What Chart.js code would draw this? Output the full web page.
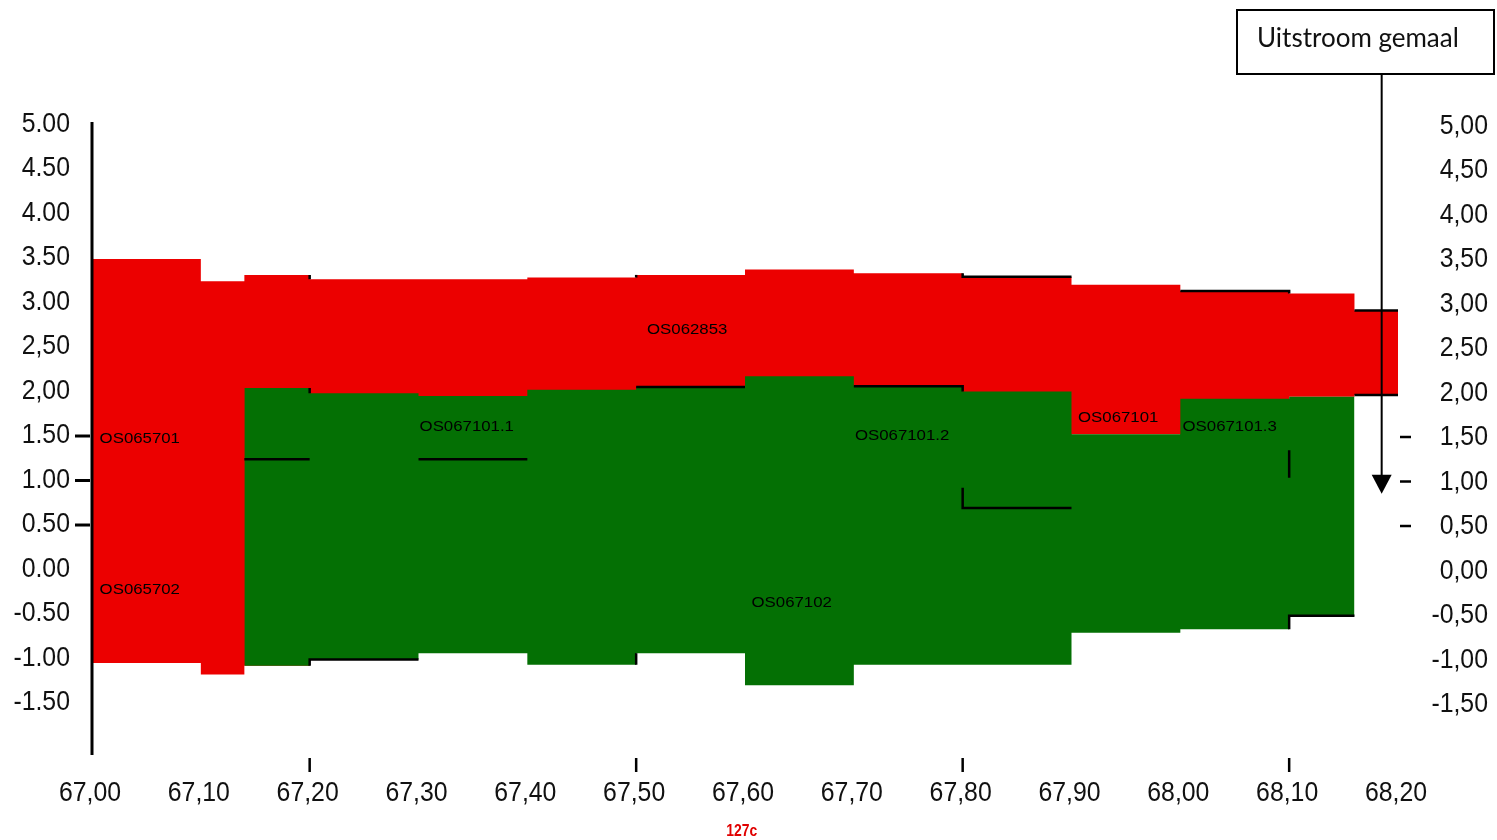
<!DOCTYPE html>
<html><head><meta charset="utf-8">
<script src="https://cdn.jsdelivr.net/npm/chart.js@4.4.1/dist/chart.umd.min.js"></script>
<style>html,body{margin:0;padding:0;background:#fff;overflow:hidden}#wrap{width:1497px;height:840px}</style>
</head><body><div id="wrap"><canvas id="c" width="1497" height="840"></canvas></div>
<script>
// ---- data ----
const boundaries = [67.00, 67.10, 67.14, 67.20, 67.30, 67.40, 67.50, 67.60, 67.70, 67.80, 67.90, 68.00, 68.10, 68.16, 68.20];
const redTop     = [3.49, 3.24, 3.31, 3.26, 3.26, 3.28, 3.31, 3.37, 3.33, 3.29, 3.20, 3.13, 3.10, 2.91];
// red band bottom (hidden behind green where green is present)
const redBottom  = [-1.05, -1.18, -1.08, 1.0, 1.0, 1.0, 1.0, 1.0, 1.0, 1.0, 1.52, 1.0, 1.94, 1.96];
const greenBoundaries = [67.14, 67.20, 67.30, 67.40, 67.50, 67.60, 67.70, 67.80, 67.90, 68.00, 68.10, 68.16];
const greenTop    = [2.04, 1.98, 1.95, 2.02, 2.05, 2.17, 2.06, 2.00, 1.52, 1.92, 1.94];
const greenBottom = [-1.08, -1.01, -0.94, -1.07, -0.94, -1.30, -1.07, -1.07, -0.71, -0.67, -0.52];
const profileLines = [
  [[67.14, 1.24], [67.20, 1.24]],
  [[67.30, 1.24], [67.40, 1.24]],
  [[67.20, 3.31], [67.20, 3.26]],
  [[67.20, 2.04], [67.20, 1.98]],
  [[67.50, 3.28], [67.50, 3.31]],
  [[67.80, 3.33], [67.80, 3.29], [67.90, 3.29]],
  [[68.00, 3.13], [68.10, 3.13], [68.10, 3.10]],
  [[68.16, 2.91], [68.20, 2.91]],
  [[68.16, 1.96], [68.20, 1.96]],
  [[67.50, 2.05], [67.60, 2.05]],
  [[67.70, 2.06], [67.80, 2.06], [67.80, 2.00]],
  [[67.80, 0.92], [67.80, 0.69], [67.90, 0.69]],
  [[68.10, 1.34], [68.10, 1.03]],
  [[67.20, -1.08], [67.20, -1.01], [67.30, -1.01]],
  [[67.50, -1.07], [67.50, -0.94]],
  [[68.10, -0.67], [68.10, -0.52], [68.16, -0.52]]
];
const sectionNames = ['OS065701', 'OS065702', 'OS062853', 'OS067101.1', 'OS067101.2', 'OS067101', 'OS067101.3', 'OS067102'];
const sectionX     = [67.007, 67.007, 67.510, 67.301, 67.701, 67.906, 68.002, 67.606];
const sectionY     = [1.47, -0.23, 2.69, 1.60, 1.50, 1.70, 1.60, -0.38];
const yTicks = [5, 4.5, 4, 3.5, 3, 2.5, 2, 1.5, 1, 0.5, 0, -0.5, -1, -1.5];
const yLabelsLeft  = ['5.00','4.50','4.00','3.50','3.00','2,50','2,00','1.50','1.00','0.50','0.00','-0.50','-1.00','-1.50'];
const yLabelsRight = ['5,00','4,50','4,00','3,50','3,00','2,50','2,00','1,50','1,00','0,50','0,00','-0,50','-1,00','-1,50'];
const yMarkTicks = [1.5, 1.0, 0.5];
const xTicks  = [67.0, 67.1, 67.2, 67.3, 67.4, 67.5, 67.6, 67.7, 67.8, 67.9, 68.0, 68.1, 68.2];
const xLabels = ['67,00','67,10','67,20','67,30','67,40','67,50','67,60','67,70','67,80','67,90','68,00','68,10','68,20'];
const xMarkTicks = [67.2, 67.5, 67.8, 68.1];
const kmLabel = '127c';
const outletLabel = 'Uitstroom gemaal';
const outletX = 68.185;
const outletY = 0.85;

// ---- helpers ----
function steps(xs, vals) {
  const pts = vals.map((v, i) => ({x: xs[i], y: v}));
  pts.push({x: xs[xs.length - 1], y: vals[vals.length - 1]});
  return pts;
}
const RED = '#ec0000', GREEN = '#047004';
const datasets = [
  {data: steps(boundaries, redTop), stepped: true, borderWidth: 0, borderColor: RED, backgroundColor: RED, fill: 1, pointRadius: 0, order: 3},
  {data: steps(boundaries, redBottom), stepped: true, borderWidth: 0, borderColor: RED, fill: false, pointRadius: 0, order: 3},
  {data: steps(greenBoundaries, greenTop), stepped: true, borderWidth: 0, borderColor: GREEN, backgroundColor: GREEN, fill: 3, pointRadius: 0, order: 2},
  {data: steps(greenBoundaries, greenBottom), stepped: true, borderWidth: 0, borderColor: GREEN, fill: false, pointRadius: 0, order: 2}
];
profileLines.forEach(pl => datasets.push({
  data: pl.map(p => ({x: p[0], y: p[1]})), borderColor: '#000', borderWidth: 2.5,
  pointRadius: 0, fill: false, order: 1, tension: 0
}));

function txt(ctx, s, x, y, font, align, sx, color) {
  ctx.save(); ctx.translate(x, y); ctx.scale(sx, 1);
  ctx.font = font; ctx.textAlign = align; ctx.textBaseline = 'middle';
  ctx.fillStyle = color; ctx.fillText(s, 0, 0); ctx.restore();
}

const decor = {
  id: 'decor',
  afterDraw(chart) {
    const ctx = chart.ctx, xs = chart.scales.x, ys = chart.scales.y, ca = chart.chartArea;
    const x0 = xs.getPixelForValue(67.0);
    ctx.save();
    ctx.strokeStyle = '#000'; ctx.fillStyle = '#000';
    // left axis line
    ctx.lineWidth = 3;
    ctx.beginPath(); ctx.moveTo(x0, ca.top); ctx.lineTo(x0, ca.bottom); ctx.stroke();
    // left tick marks + right dashes
    yMarkTicks.forEach(v => {
      const y = ys.getPixelForValue(v);
      ctx.lineWidth = 3;
      ctx.beginPath(); ctx.moveTo(x0 - 17, y); ctx.lineTo(x0 - 2, y); ctx.stroke();
      ctx.lineWidth = 2.5;
      ctx.beginPath(); ctx.moveTo(ca.right + 2, y + 1); ctx.lineTo(ca.right + 13, y + 1); ctx.stroke();
    });
    // x tick marks
    ctx.lineWidth = 2.5;
    xMarkTicks.forEach(v => {
      const x = xs.getPixelForValue(v);
      ctx.beginPath(); ctx.moveTo(x, ca.bottom + 3); ctx.lineTo(x, ca.bottom + 17); ctx.stroke();
    });
    const tf = '27px "Liberation Sans", Arial, sans-serif';
    yTicks.forEach((v, i) => {
      const y = ys.getPixelForValue(v);
      txt(ctx, yLabelsLeft[i], x0 - 22, y, tf, 'right', 0.92, '#111');
      txt(ctx, yLabelsRight[i], ca.right + 90, y + 2, tf, 'right', 0.92, '#111');
    });
    xTicks.forEach((v, i) => {
      const x = xs.getPixelForValue(v);
      txt(ctx, xLabels[i], x - 2, ca.bottom + 39, tf, 'center', 0.92, '#111');
    });
    // section names
    sectionNames.forEach((s, i) => {
      txt(ctx, s, xs.getPixelForValue(sectionX[i]), ys.getPixelForValue(sectionY[i]),
          '15px "Liberation Sans", Arial, sans-serif', 'left', 1.12, '#000');
    });
    // km label
    txt(ctx, kmLabel, xs.getPixelForValue(67.597), ca.bottom + 76, 'bold 17px "Liberation Sans", Arial, sans-serif', 'center', 0.82, '#e00000');
    // outlet box + arrow
    const ax = xs.getPixelForValue(outletX);
    const tipY = ys.getPixelForValue(outletY);
    ctx.lineWidth = 2;
    ctx.strokeRect(1237, 10, 257, 64);
    txt(ctx, outletLabel, 1257, 39, '26px Lato, "Open Sans", sans-serif', 'left', 1.0, '#111');
    ctx.beginPath(); ctx.moveTo(ax, 74); ctx.lineTo(ax, tipY - 16); ctx.stroke();
    ctx.beginPath(); ctx.moveTo(ax - 10, tipY - 19); ctx.lineTo(ax + 10, tipY - 19); ctx.lineTo(ax, tipY); ctx.closePath(); ctx.fill();
    ctx.restore();
  }
};

new Chart(document.getElementById('c'), {
  type: 'line',
  data: {datasets},
  options: {
    responsive: false, animation: false, devicePixelRatio: 1,
    layout: {padding: {left: 92, right: 99, top: 122, bottom: 85}},
    plugins: {legend: {display: false}, tooltip: {enabled: false}, filler: {propagate: false}},
    scales: {
      x: {type: 'linear', min: 67.0, max: 68.2, display: false},
      y: {type: 'linear', min: -2.084, max: 5.028, display: false}
    },
    elements: {line: {borderCapStyle: 'butt'}}
  },
  plugins: [decor]
});
</script></body></html>
